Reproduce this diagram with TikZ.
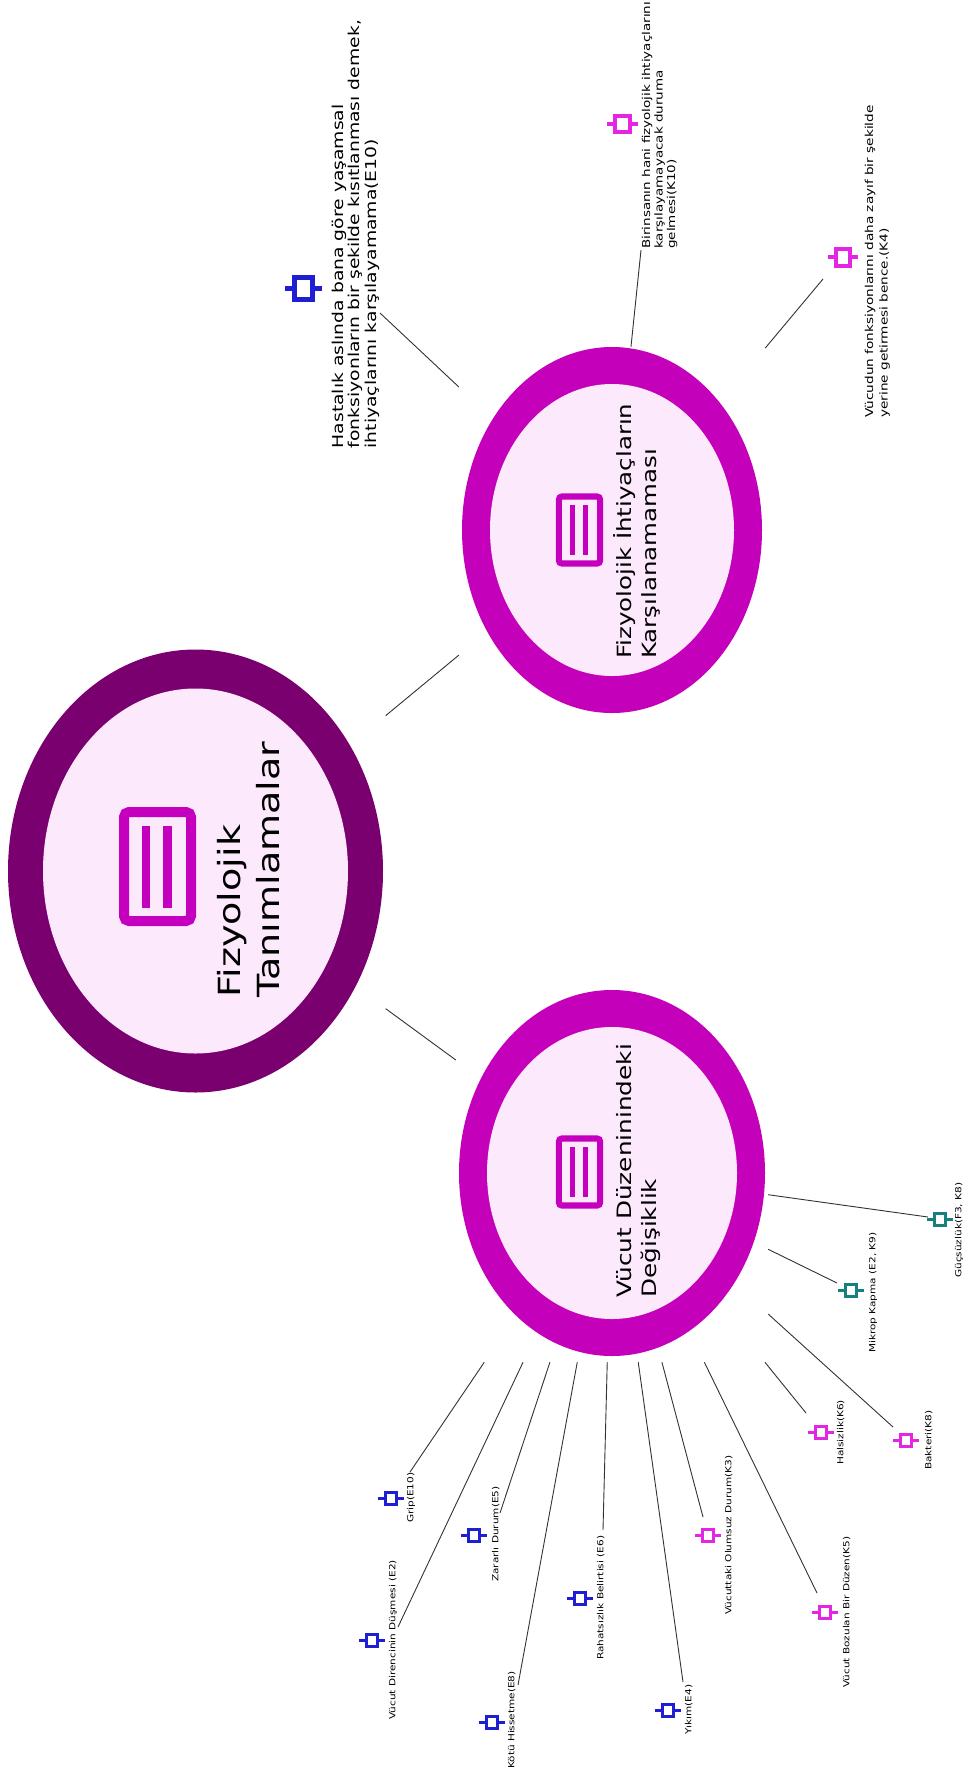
\documentclass[tikz,border=0pt]{standalone}
\usepackage{fontspec}
\setmainfont{DejaVu Sans}
\usetikzlibrary{calc}

\definecolor{ringdark}{RGB}{122,0,112}
\definecolor{ringmag}{RGB}{196,0,186}
\definecolor{bubble}{RGB}{252,233,252}
\definecolor{iconmag}{RGB}{196,0,190}
\definecolor{codeblue}{RGB}{30,30,210}
\definecolor{codepink}{RGB}{228,38,228}
\definecolor{codeteal}{RGB}{22,128,124}

\newcommand\fs[2]{\fontsize{#1}{#2}\selectfont}

% list symbol inside the round topic bubbles
\newcommand\listicon[2]{%
  \begin{scope}[shift={#1}, scale=#2]
    \draw[iconmag, line width=10*#2, rounded corners=5*#2] (-33.5,-54.5) rectangle (33.5,54.5);
    \fill[iconmag] (-15.5,-41) rectangle (-7.5,41);
    \fill[iconmag] (5.5,-41) rectangle (14.5,41);
  \end{scope}}

% code symbol: square with two side stubs
% #1 name, #2 position, #3 colour, #4 stroke, #5 width, #6 height, #7 stub
\newcommand\codemark[7]{%
  \node[codebox, draw=#3, line width=#4, minimum width=#5, minimum height=#6] (#1) at #2 {};
  \draw[#3, line width=#4] (#1.west) -- ++(-#7,0) (#1.east) -- ++(#7,0);}
\newcommand\smallcode[3]{\codemark{#1}{#2}{#3}{3}{10.5}{12}{6}}

\tikzset{
  hub/.style={rectangle, inner sep=0pt},
  codebox/.style={rectangle, inner sep=0pt, fill=white},
  lbl/.style={rotate=90, xscale=1.25, inner sep=0pt, anchor=north west, align=left, text=black},
  leaf/.style={lbl, font=\fs{8.4}{10}},
  link/.style={draw=black!80, line width=0.9pt},
}

\begin{document}
\begin{tikzpicture}[x=1pt, y=-1pt]
\fill[white] (0,0) rectangle (968,1778);
\useasboundingbox (0,0) rectangle (968,1778);

% topic boxes (the connectors end on their borders)
\node[hub, minimum width=380, minimum height=452] (main) at (195.5,871) {};
\node[hub, minimum width=306, minimum height=366] (needs) at (612,530) {};
\node[hub, minimum width=312, minimum height=378] (change) at (612,1173) {};

% rings
\fill[ringdark] (main.center) ellipse [x radius=187.5, y radius=221.5];
\fill[bubble] (main.center) ellipse [x radius=152.5, y radius=182.5];
\fill[ringmag] (needs.center) ellipse [x radius=150, y radius=183];
\fill[bubble] (needs.center) ellipse [x radius=122, y radius=146];
\fill[ringmag] (change.center) ellipse [x radius=153, y radius=183];
\fill[bubble] (change.center) ellipse [x radius=125, y radius=146];

\listicon{(157.5,866.5)}{1}
\listicon{(579.5,530)}{0.615}
\listicon{(579.5,1172)}{0.615}

% topic titles
\node[lbl, font=\fs{30.5}{39}] (maintitle) at (209.5,998) {\rule{0pt}{1em}Fizyolojik\\Tanımlamalar};
\node[lbl, font=\fs{19.6}{25}] (needstitle) at (611.5,659) {\rule{0pt}{1em}Fizyolojik İhtiyaçların\\Karşılanamaması};
\node[lbl, font=\fs{19.8}{25}] (changetitle) at (611.5,1298) {\rule{0pt}{1em}Vücut Düzeninindeki\\Değişiklik};

% quotations around the needs topic
\codemark{e10icon}{(303,288)}{codeblue}{5}{18}{22}{7}
\node[lbl, font=\fs{15}{16.7}] (e10) at (328,448.5) {\rule{0pt}{1em}Hastalık aslında bana göre yaşamsal\\fonksiyonların bir şekilde kısıtlanması demek,\\ihtiyaçlarını karşılayamama(E10)};
\codemark{k10icon}{(622,124)}{codepink}{4}{15}{16}{6}
\node[lbl, font=\fs{10.8}{12.5}] (k10) at (639,249) {\rule{0pt}{1em}Birinsanın hani fizyolojik ihtiyaçlarını\\karşılayamayacak duruma\\gelmesi(K10)};
\codemark{k4icon}{(843,257)}{codepink}{4}{14}{17}{6}
\node[lbl, font=\fs{10.9}{14.5}] (k4) at (862,418) {\rule{0pt}{1em}Vücudun fonksiyonlarını daha zayıf bir şekilde\\yerine getirmesi bence.(K4)};

% codes around the change topic
\smallcode{gripicon}{(391,1498)}{codeblue}
\node[leaf] (grip) at (404.7,1523) {\rule{0pt}{1em}Grip(E10)};
\smallcode{e2icon}{(372,1640)}{codeblue}
\node[leaf] (e2) at (386.7,1720) {\rule{0pt}{1em}Vücut Direncinin Düşmesi (E2)};
\smallcode{e5icon}{(474,1535)}{codeblue}
\node[leaf] (e5) at (489.7,1582) {\rule{0pt}{1em}Zararlı Durum(E5)};
\smallcode{e8icon}{(492,1722)}{codeblue}
\node[leaf] (e8) at (505.7,1769) {\rule{0pt}{1em}Kötü Hissetme(E8)};
\smallcode{e6icon}{(580,1598)}{codeblue}
\node[leaf] (e6) at (594.7,1660) {\rule{0pt}{1em}Rahatsızlık Belirtisi (E6)};
\smallcode{e4icon}{(668,1710)}{codeblue}
\node[leaf] (e4) at (682.7,1735) {\rule{0pt}{1em}Yıkım(E4)};
\smallcode{k3icon}{(708,1535)}{codepink}
\node[leaf] (k3) at (722.7,1615) {\rule{0pt}{1em}Vücuttaki Olumsuz Durum(K3)};
\smallcode{k5icon}{(825,1612)}{codepink}
\node[leaf] (k5) at (840.7,1688) {\rule{0pt}{1em}Vücut Bozulan Bir Düzen(K5)};
\smallcode{k6icon}{(821,1432)}{codepink}
\node[leaf] (k6) at (834.7,1465) {\rule{0pt}{1em}Halsizlik(K6)};
\smallcode{k8icon}{(906,1440)}{codepink}
\node[leaf] (k8) at (922.7,1470) {\rule{0pt}{1em}Bakteri(K8)};
\smallcode{mikropicon}{(851,1290)}{codeteal}
\node[leaf] (mikrop) at (866.7,1353) {\rule{0pt}{1em}Mikrop Kapma (E2, K9)};
\smallcode{gucicon}{(940,1219)}{codeteal}
\node[leaf] (guc) at (952.7,1278) {\rule{0pt}{1em}Güçsüzlük(F3, K8)};

% connector ends at the labels
\coordinate (e10-end) at (380,313);
\coordinate (k10-end) at (641,250);
\coordinate (k4-end) at (823,279);
\coordinate (grip-end) at (410,1472);
\coordinate (e2-end) at (398,1627);
\coordinate (e5-end) at (500,1513);
\coordinate (e8-end) at (518,1685);
\coordinate (e6-end) at (603,1530);
\coordinate (e4-end) at (683,1682);
\coordinate (k3-end) at (703,1517);
\coordinate (k5-end) at (817,1593);
\coordinate (k6-end) at (806,1413);
\coordinate (k8-end) at (893,1427);
\coordinate (mikrop-end) at (837,1283);
\coordinate (guc-end) at (928,1217);

% connectors
\draw[link] (main) -- (needs);
\draw[link] (main) -- (change);
\foreach \e in {e10,k10,k4}{\draw[link] (needs) -- (\e-end);}
\foreach \e in {grip,e2,e5,e8,e6,e4,k3,k5,k6,k8,mikrop,guc}{\draw[link] (change) -- (\e-end);}
\end{tikzpicture}
\end{document}
